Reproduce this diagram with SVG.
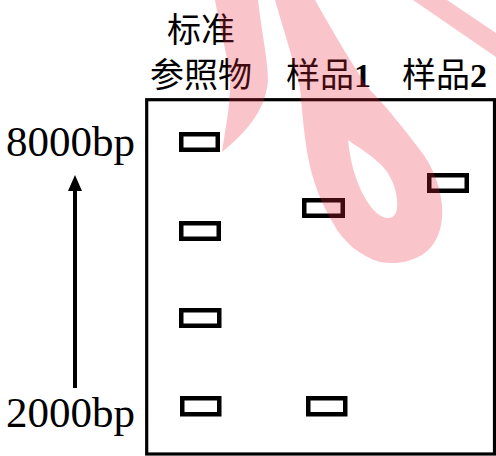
<svg xmlns="http://www.w3.org/2000/svg" width="496" height="456" viewBox="0 0 496 456">
<style>
.cjk{font-family:"Noto Sans CJK SC","Noto Sans CJK TC",sans-serif;font-size:34px;fill:#000}
.num{font-family:"Liberation Serif",serif;font-weight:bold}
.bp{font-family:"Liberation Serif","Times New Roman",serif;font-size:43px;fill:#000}
.band{fill:none;stroke:#000;stroke-width:4.5}
.wm{fill:#e8283c;fill-opacity:0.27;fill-rule:evenodd}
</style>
<rect width="496" height="456" fill="#fff"/>
<g id="labels">
<text class="cjk" x="167" y="42">标准</text>
<text class="cjk" x="150" y="87">参照物</text>
<text class="cjk" x="286" y="87">样品<tspan class="num">1</tspan></text>
<text class="cjk" x="402" y="87">样品<tspan class="num">2</tspan></text>
<text class="bp" x="6" y="156">8000bp</text>
<text class="bp" x="6" y="427">2000bp</text>
</g>
<g id="gel">
<rect x="146.7" y="99.7" width="347.8" height="354.3" fill="none" stroke="#000" stroke-width="3.2"/>
</g>
<g id="bands">
<rect id="r1" class="band" x="181.25" y="134.25" width="36.5" height="15.5"/>
<rect id="r2" class="band" x="181.25" y="223.25" width="37.5" height="15.5"/>
<rect id="r3" class="band" x="181.25" y="310.25" width="38" height="15.5"/>
<rect id="r4" class="band" x="182.25" y="398.25" width="37" height="16"/>
<rect id="s1a" class="band" x="304.25" y="200.25" width="38.5" height="15.5"/>
<rect id="s1b" class="band" x="308.25" y="398.25" width="37" height="16"/>
<rect id="s2" class="band" x="429.25" y="175.25" width="37.5" height="15.5"/>
</g>
<g id="connectors">
<line x1="75" y1="388" x2="75" y2="188" stroke="#000" stroke-width="4"/>
<polygon points="75,175 68,191 82,191" fill="#000"/>
</g>
<g id="watermark">
<path class="wm" d="M215,0 L258,0 C262,35 268,60 268,82 C265,105 255,125 222,152 C225,130 230,110 230,82 C228,55 220,30 215,0 Z"/>
<path class="wm" d="M275,0 L315,0 C335,35 352,65 370,90 C385,105 405,130 420,150 C432,165 440,185 442,205 C444,230 435,248 420,256 C405,264 392,264 380,262 C360,256 343,242 333,223 C322,205 312,180 308,157 C304,135 302,110 300,88 C292,55 283,28 275,0 Z M348,140 C350,160 355,180 365,198 C372,210 380,218 388,218 C396,218 398,210 397,200 C396,185 388,170 378,162 C368,153 358,147 348,140 Z"/>
<path class="wm" d="M413,0 L447,0 L496,33 L496,57 Z"/>
</g>
</svg>
